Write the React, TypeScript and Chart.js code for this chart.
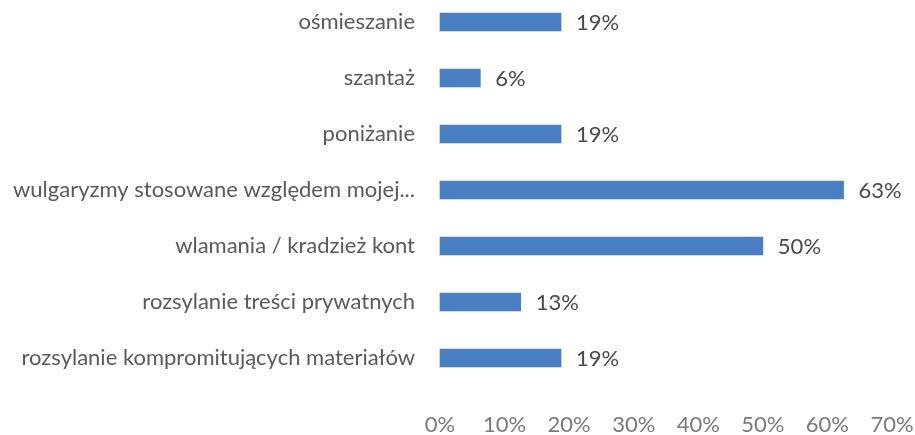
import React, { useEffect, useRef } from "react";
import { Chart, registerables } from "chart.js";

Chart.register(...registerables);

const categories = [
  "ośmieszanie",
  "szantaż",
  "poniżanie",
  "wulgaryzmy stosowane względem mojej...",
  "wlamania / kradzież kont",
  "rozsylanie treści prywatnych",
  "rozsylanie kompromitujących materiałów",
];
const values = [18.75, 6.25, 18.75, 62.5, 50, 12.5, 18.75];
const tickMax = 70;
const tickStep = 10;

const FONT = "Lato, 'Open Sans', sans-serif";

const dataLabels = {
  id: "dataLabels",
  afterDatasetsDraw(chart: any) {
    const ctx = chart.ctx;
    const meta = chart.getDatasetMeta(0);
    ctx.save();
    ctx.font = `22px ${FONT}`;
    ctx.fillStyle = "#4a4a4a";
    ctx.textAlign = "left";
    ctx.textBaseline = "middle";
    meta.data.forEach((el: any, i: number) => {
      ctx.fillText(Math.round(values[i]) + "%", el.x + 15, el.y + 1);
    });
    ctx.restore();
  },
};

export default function App() {
  const ref = useRef<HTMLCanvasElement | null>(null);
  useEffect(() => {
    if (!ref.current) return;
    const chart = new Chart(ref.current, {
      type: "bar",
      data: {
        labels: categories,
        datasets: [
          {
            data: values,
            backgroundColor: "#4a7fc4",
            barThickness: 18,
            clip: false as any,
          },
        ],
      },
      options: {
        indexAxis: "y",
        animation: false,
        responsive: false,
        maintainAspectRatio: false,
        layout: { padding: { top: 22, right: 23, bottom: 0, left: 0 } },
        plugins: { legend: { display: false }, tooltip: { enabled: false } },
        scales: {
          x: {
            min: 0,
            max: tickMax,
            grid: { display: false, drawTicks: false },
            border: { display: false },
            afterFit: (s: any) => {
              s.height = 77;
              s.paddingLeft = 0;
              s.paddingRight = 0;
            },
            ticks: {
              stepSize: tickStep,
              padding: 54,
              color: "#7a7a7a",
              font: { family: FONT, size: 22 },
              callback: (v: any) => v + "%",
            },
          },
          y: {
            offset: false,
            grid: { display: false, drawTicks: false },
            border: { display: false },
            afterFit: (s: any) => {
              s.width = 440;
              s.paddingTop = 0;
              s.paddingBottom = 0;
            },
            ticks: {
              padding: 25,
              color: "#5a5a5a",
              font: { family: FONT, size: 22 },
            },
          },
        },
      },
      plugins: [dataLabels],
    });
    return () => chart.destroy();
  }, []);
  return (
    <div style={{ position: "absolute", left: 0, top: 0, width: 915, height: 435, background: "#fff" }}>
      <canvas ref={ref} width={915} height={435} style={{ width: 915, height: 435 }} />
    </div>
  );
}
